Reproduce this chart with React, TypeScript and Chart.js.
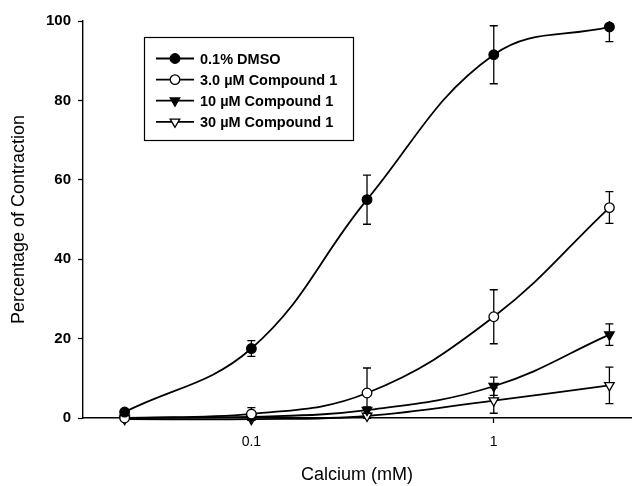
import React, { useEffect, useRef } from "react";
import { Chart, registerables } from "chart.js";
import { drawPoint } from "chart.js/helpers";

Chart.register(...registerables);

// Calcium concentrations (mM)
const calcium = [0.03, 0.1, 0.3, 1, 3];

// Percentage of contraction, mean and error, per treatment
const dmso = [1.5, 17.5, 55, 91.5, 98.5];
const dmsoErr = [0.6, 2, 6.2, 7.3, 3.7];
const cmpd3 = [0, 1, 6.3, 25.5, 53];
const cmpd3Err = [0.5, 1.6, 6.3, 6.8, 4];
const cmpd10 = [0, 0.3, 2, 8, 21];
const cmpd10Err = [0.3, 0.5, 0.8, 2.3, 2.7];
const cmpd30 = [-0.3, -0.3, 0.5, 4.4, 8.2];
const cmpd30Err = [0.3, 0.3, 0.5, 3.2, 4.6];

const seriesLabels = [
  "0.1% DMSO",
  "3.0 \u00b5M Compound 1",
  "10 \u00b5M Compound 1",
  "30 \u00b5M Compound 1",
];

const xTickValues = [0.1, 1];
const xTickLabels = ["0.1", "1"];

const FONT = "'Liberation Sans', Arial, Helvetica, sans-serif";

const toPoints = (ys: number[]) => calcium.map((x, i) => ({ x, y: ys[i] }));

// Vertical error bars with caps, drawn beneath the markers
const errorBarsPlugin = {
  id: "errorBars",
  beforeDatasetsDraw(chart: any) {
    const { ctx, chartArea, scales } = chart;
    const xs = scales.x;
    const ys = scales.y;
    ctx.save();
    ctx.beginPath();
    ctx.rect(chartArea.left, chartArea.top, chartArea.right - chartArea.left, chartArea.bottom - chartArea.top + 12);
    ctx.clip();
    ctx.strokeStyle = "#000";
    ctx.lineWidth = 1.3;
    chart.data.datasets.forEach((ds: any) => {
      const errs: number[] = ds.errors || [];
      ds.data.forEach((pt: any, j: number) => {
        const e = errs[j];
        if (!e) return;
        const px = xs.getPixelForValue(pt.x);
        const top = ys.getPixelForValue(pt.y + e);
        const bot = ys.getPixelForValue(pt.y - e);
        const cap = 4;
        ctx.beginPath();
        ctx.moveTo(px, top);
        ctx.lineTo(px, bot);
        ctx.moveTo(px - cap, top);
        ctx.lineTo(px + cap, top);
        ctx.moveTo(px - cap, bot);
        ctx.lineTo(px + cap, bot);
        ctx.stroke();
      });
    });
    ctx.restore();
  },
};

// Boxed legend with a line sample and a marker per series
const boxLegendPlugin = {
  id: "boxLegend",
  afterDatasetsDraw(chart: any) {
    const { ctx } = chart;
    const boxX = 144.5;
    const boxY = 37.5;
    const boxW = 209;
    const boxH = 103;
    ctx.save();
    ctx.fillStyle = "#fff";
    ctx.fillRect(boxX, boxY, boxW, boxH);
    ctx.strokeStyle = "#000";
    ctx.lineWidth = 1.2;
    ctx.strokeRect(boxX, boxY, boxW, boxH);
    chart.data.datasets.forEach((ds: any, i: number) => {
      const y = 58.5 + i * 21.1;
      ctx.strokeStyle = "#000";
      ctx.lineWidth = 1.8;
      ctx.beginPath();
      ctx.moveTo(156, y);
      ctx.lineTo(194, y);
      ctx.stroke();
      ctx.fillStyle = ds.pointBackgroundColor;
      ctx.strokeStyle = ds.pointBorderColor;
      ctx.lineWidth = ds.pointBorderWidth;
      drawPoint(ctx, {
        pointStyle: ds.pointStyle,
        rotation: ds.pointRotation || 0,
        radius: ds.pointRadius,
        borderWidth: ds.pointBorderWidth,
      }, 175, y);
      ctx.fillStyle = "#000";
      ctx.font = `bold 14.5px ${FONT}`;
      ctx.textAlign = "left";
      ctx.textBaseline = "middle";
      ctx.fillText(ds.label, 200, y + 1);
    });
    ctx.restore();
  },
};

function makeDataset(label: string, ys: number[], errs: number[], style: string, filled: boolean, rotation: number, radius: number) {
  return {
    label,
    data: toPoints(ys),
    errors: errs,
    borderColor: "#000",
    borderWidth: 1.8,
    tension: 0.4,
    pointStyle: style,
    pointRotation: rotation,
    pointRadius: radius,
    pointBorderWidth: 1.3,
    pointBorderColor: "#000",
    pointBackgroundColor: filled ? "#000" : "#fff",
    fill: false,
    clip: false as const,
  };
}

export default function App() {
  const canvasRef = useRef<HTMLCanvasElement | null>(null);

  useEffect(() => {
    if (!canvasRef.current) return;
    const chart = new Chart(canvasRef.current, {
      type: "line",
      data: {
        datasets: [
          makeDataset(seriesLabels[0], dmso, dmsoErr, "circle", true, 0, 4.8),
          makeDataset(seriesLabels[1], cmpd3, cmpd3Err, "circle", false, 0, 4.8),
          makeDataset(seriesLabels[2], cmpd10, cmpd10Err, "triangle", true, 180, 5.5),
          makeDataset(seriesLabels[3], cmpd30, cmpd30Err, "triangle", false, 180, 5.5),
        ],
      } as any,
      options: {
        animation: false,
        responsive: true,
        maintainAspectRatio: false,
        layout: { padding: { top: 21, right: 1, left: 0, bottom: 0 } },
        plugins: {
          legend: { display: false },
          tooltip: { enabled: false },
        },
        scales: {
          x: {
            type: "logarithmic",
            min: 0.0202,
            max: 3.69,
            afterBuildTicks: (scale: any) => {
              scale.ticks = xTickValues.map((v) => ({ value: v }));
            },
            afterFit: (scale: any) => {
              scale.height = 68;
            },
            ticks: {
              autoSkip: false,
              maxRotation: 0,
              color: "#000",
              padding: 11,
              font: { family: FONT, size: 14 },
              callback: (v: any) => {
                const k = xTickValues.indexOf(Number(v));
                return k >= 0 ? xTickLabels[k] : "";
              },
            },
            grid: {
              drawOnChartArea: false,
              drawTicks: true,
              tickLength: 5,
              tickColor: "#000",
              tickWidth: 1.3,
            },
            border: { display: true, color: "#000", width: 1.4 },
            title: {
              display: true,
              text: "Calcium (mM)",
              color: "#000",
              font: { family: FONT, size: 18 },
              padding: { top: 0, bottom: 0 },
            },
          },
          y: {
            type: "linear",
            min: 0,
            max: 100,
            afterFit: (scale: any) => {
              scale.width = 83;
            },
            ticks: {
              stepSize: 20,
              color: "#000",
              padding: 7,
              font: { family: FONT, size: 15, weight: "bold" },
            },
            grid: {
              drawOnChartArea: false,
              drawTicks: true,
              tickLength: 5,
              tickColor: "#000",
              tickWidth: 1.3,
            },
            border: { display: true, color: "#000", width: 1.4 },
            title: {
              display: true,
              text: "Percentage of Contraction",
              color: "#000",
              font: { family: FONT, size: 18 },
              padding: { top: 8, bottom: 0 },
            },
          },
        },
      } as any,
      plugins: [errorBarsPlugin, boxLegendPlugin],
    });
    return () => chart.destroy();
  }, []);

  return (
    <>
      <style>{`body{margin:0;background:#fff}`}</style>
      <div style={{ position: "relative", width: 638, height: 486 }}>
        <canvas ref={canvasRef} />
      </div>
    </>
  );
}
